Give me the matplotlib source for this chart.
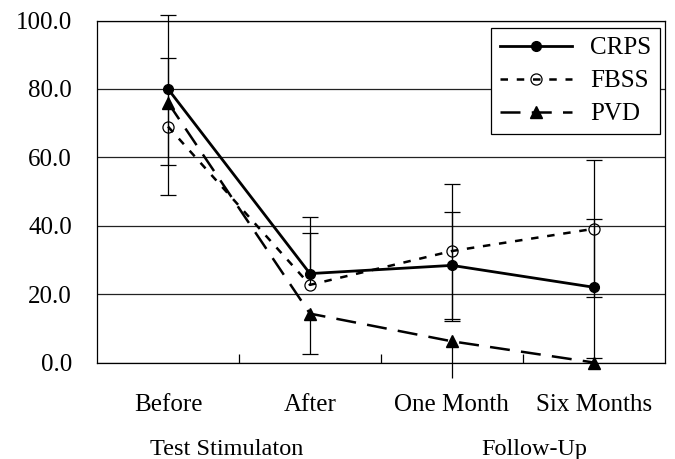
import matplotlib
matplotlib.use("Agg")
import matplotlib.pyplot as plt
import numpy as np

# values
periods = ["Before", "After", "One Month", "Six Months"]
crps = [80.0, 26.0, 28.4, 22.0]
fbss = [69.0, 22.7, 32.6, 39.1]
pvd = [76.0, 14.3, 6.2, 0.0]

# error bar ends (nan = no bar drawn on that side)
crps_hi = [101.7, 42.5, 44.0, 42.1]
crps_lo = [57.7, np.nan, 12.8, 1.4]
fbss_hi = [89.0, 38.0, 52.3, 59.2]
fbss_lo = [48.9, np.nan, 12.1, 19.1]
pvd_hi = [np.nan, np.nan, np.nan, np.nan]
pvd_lo = [np.nan, 2.4, -4.4, np.nan]

group_labels = ["Test Stimulaton", "Follow-Up"]
yticks = [0, 20, 40, 60, 80, 100]

plt.rcParams["font.family"] = ["Liberation Serif", "DejaVu Serif"]

fig = plt.figure(figsize=(6.75, 4.59), dpi=100)
ax = fig.add_axes([0.1437, 0.2102, 0.8413, 0.7451])

x = np.arange(len(periods)) + 0.5

# error bars: thin black stems; caps below the axis floor are not shown
for vals, lo, hi in [(crps, crps_lo, crps_hi), (fbss, fbss_lo, fbss_hi), (pvd, pvd_lo, pvd_hi)]:
    vals = np.array(vals)
    lo = np.array(lo)
    hi = np.array(hi)
    top = np.where(np.isnan(hi), vals, hi)
    bot = np.where(np.isnan(lo), vals, lo)
    ax.vlines(x, bot, top, color="black", lw=0.9, zorder=3, clip_on=False)
    caps = np.concatenate([hi, lo])
    caps = np.where(caps >= 0, caps, np.nan)
    ax.plot(np.concatenate([x, x]), caps, ls="none", marker="_", ms=12, mew=0.9,
            color="black", zorder=3, clip_on=False)

ax.plot(x, crps, color="black", lw=2.0, marker="o", ms=7, label="CRPS",
        zorder=5, clip_on=False)
ax.plot(x, fbss, color="black", lw=1.8, ls=(0, (3, 3.5)), marker="o", ms=8,
        mfc="none", mew=0.9, label="FBSS", zorder=4, clip_on=False)
ax.plot(x, pvd, color="black", lw=1.8, ls=(0, (8, 4.5)), marker="^", ms=9,
        label="PVD", zorder=4, clip_on=False)

ax.set_xlim(0, 4)
ax.set_ylim(0, 100)
ax.set_yticks(yticks)
ax.set_yticklabels([f"{v:.1f}" for v in yticks])
ax.set_xticks(x)
ax.set_xticklabels(periods)
ax.set_xticks([1, 2, 3], minor=True)
ax.tick_params(axis="y", length=0, pad=18, labelsize=18)
ax.tick_params(axis="x", which="major", length=0, pad=23, labelsize=18)
ax.tick_params(axis="x", which="minor", direction="in", length=6.5, width=0.9)
ax.grid(axis="y", color="#222222", lw=0.9)
ax.set_axisbelow(True)
for sp in ax.spines.values():
    sp.set_linewidth(0.9)

leg = ax.legend(loc="upper right", bbox_to_anchor=(0.991, 0.978), borderaxespad=0,
                fontsize=18, handlelength=2.9, frameon=True, fancybox=False,
                edgecolor="black", framealpha=1, borderpad=0.35, labelspacing=0.42,
                handletextpad=0.7)
leg.get_frame().set_linewidth(0.9)

fig.text(227 / 675, 1 - 455 / 459, group_labels[0], ha="center", va="baseline", fontsize=17.5)
fig.text(534 / 675, 1 - 455 / 459, group_labels[1], ha="center", va="baseline", fontsize=17.5)

fig.savefig("out.png", dpi=100)
